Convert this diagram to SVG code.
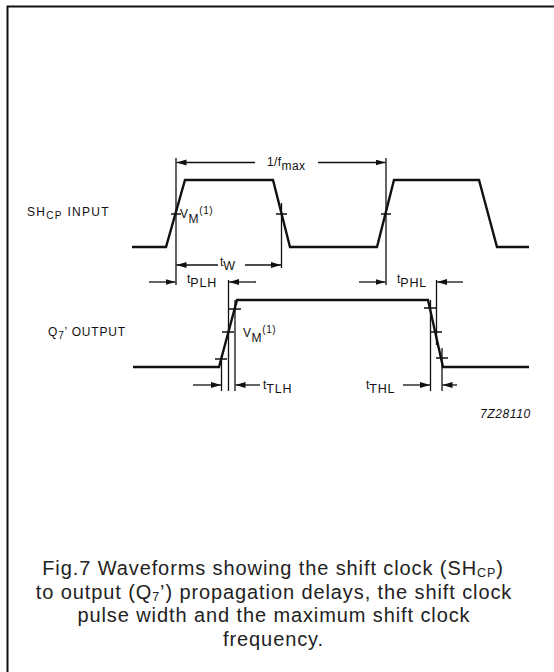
<svg xmlns="http://www.w3.org/2000/svg" width="554" height="672" viewBox="0 0 554 672">
<style>
.wave{fill:none;stroke:#111;stroke-width:2.4;stroke-linejoin:miter}
.ref{fill:none;stroke:#111;stroke-width:1.3}
.arr{fill:none;stroke:#111;stroke-width:1.3;marker-end:url(#ah)}
.lbl{font-family:"Liberation Sans",Arial,sans-serif;font-size:12px;fill:#111}
.ts{font-size:12.5px;letter-spacing:0.8px}
.cap{font-family:"Liberation Sans",Arial,sans-serif;font-size:20px;letter-spacing:0.9px;fill:#222;text-anchor:middle}
.csub{font-size:12.5px}
.sub{font-size:10px}
</style>
<defs>
<marker id="ah" markerUnits="userSpaceOnUse" markerWidth="11" markerHeight="7" refX="10" refY="3" orient="auto">
<path d="M0,0 L10,3 L0,6 z" fill="#111"/>
</marker>
</defs>
<rect width="554" height="672" fill="#fff"/>
<g id="frame">
<path d="M7.5,672 L7.5,6.5 L554,6.5" fill="none" stroke="#111" stroke-width="2"/>
</g>
<g id="shcp-input">
<polyline class="wave" points="132,247 166,247 185,180 273,180 290,247 377,247 394,180 479,180 497,247 529,247"/>
<path class="ref" d="M171,214H181M276,214H287M381,214H391"/>
<text class="lbl" x="27" y="216" letter-spacing="1.3">SH<tspan class="sub" dy="3">CP</tspan><tspan dy="-3"> INPUT</tspan></text>
</g>
<g id="q7-output">
<polyline class="wave" points="133,367 219,367 237,300 428,300 443,367 529,367"/>
<path class="ref" d="M229,309H241M222,332H234M215,359H227M424,308H436M430,332H442M436,358H448"/>
<text class="lbl" x="48" y="336" letter-spacing="0.8">Q<tspan class="sub" dy="3">7</tspan><tspan dy="-3">’ OUTPUT</tspan></text>
</g>
<g id="connectors">
<path class="ref" d="M176,158V285M281.5,203V268M386,158V285M221.5,355V391M228.5,280V391M235,300V391M430.5,300V391M436.5,280V345M442,348V391"/>
<path class="arr" d="M255,162.5H176.5"/>
<path class="arr" d="M318,162.5H385.5"/>
<path class="arr" d="M218,265H176.5"/>
<path class="arr" d="M245,265H281"/>
<path class="arr" d="M149,282H175.5"/>
<path class="arr" d="M256,282H229"/>
<path class="arr" d="M359,282H385.5"/>
<path class="arr" d="M463,282H437"/>
<path class="arr" d="M193,385H221"/>
<path class="arr" d="M260,385H235.5"/>
<path class="arr" d="M403,385H430"/>
<path class="arr" d="M457,385H442.5"/>
</g>
<g id="labels">
<text class="lbl" x="267" y="166" font-size="12.5" letter-spacing="0.4">1/f<tspan font-size="12" dy="4">max</tspan></text>
<text class="lbl" x="220" y="266" font-size="10">t<tspan class="ts" dy="4">W</tspan></text>
<text class="lbl" x="187" y="283" font-size="10">t<tspan class="ts" dy="4">PLH</tspan></text>
<text class="lbl" x="397" y="283" font-size="10">t<tspan class="ts" dy="4">PHL</tspan></text>
<text class="lbl" x="263" y="389" font-size="10">t<tspan class="ts" dy="4">TLH</tspan></text>
<text class="lbl" x="366" y="389" font-size="10">t<tspan class="ts" dy="4">THL</tspan></text>
<text class="lbl" x="180" y="218" font-size="12.5" letter-spacing="0.6">V<tspan dy="5">M</tspan><tspan font-size="10" dy="-9">(1)</tspan></text>
<text class="lbl" x="243" y="337" font-size="12.5" letter-spacing="0.6">V<tspan dy="5">M</tspan><tspan font-size="10" dy="-9">(1)</tspan></text>
<text class="lbl" x="480" y="418" font-size="13" letter-spacing="0.6" font-style="italic">7Z28110</text>
</g>
<g id="caption">
<text class="cap" x="273" y="575">Fig.7  Waveforms showing the shift clock (SH<tspan class="csub" dy="2">CP</tspan><tspan dy="-2">)</tspan></text>
<text class="cap" x="274" y="598.5">to output (Q<tspan class="csub" dy="2">7</tspan><tspan dy="-2">’) propagation delays, the shift clock</tspan></text>
<text class="cap" x="274" y="622">pulse width and the maximum shift clock</text>
<text class="cap" x="273.5" y="645.5">frequency.</text>
</g>
</svg>
